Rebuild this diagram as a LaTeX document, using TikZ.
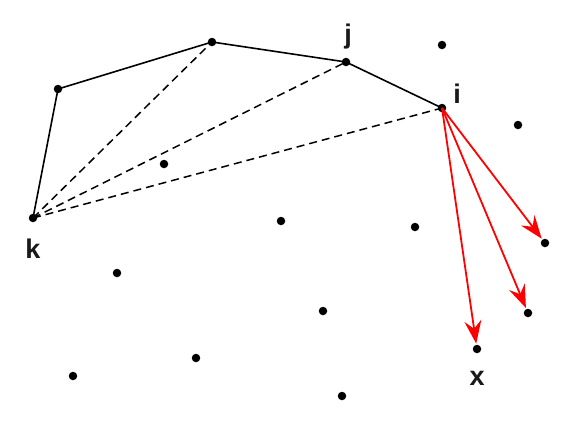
\documentclass[tikz,border=0pt]{standalone}
\usepackage{fontspec}
\setmainfont{Liberation Sans}
\usepackage{xcolor}
\usepackage{tikz}
\usetikzlibrary{arrows.meta,positioning}
\tikzset{
  >={Stealth[length=23pt,width=17pt,inset=8pt]},
  pt/.style={circle,fill=black,inner sep=0pt,minimum size=8.5pt},
  hull/.style={line width=1.6pt,black},
  chord/.style={line width=1.5pt,black,dash pattern=on 8pt off 5pt},
  probe/.style={->,line width=1.8pt,red,shorten >=1pt},
  tag/.style={font=\fontsize{27}{30}\selectfont\bfseries,text=black!90,inner sep=0pt}
}

\begin{document}
\begin{tikzpicture}[x=1pt,y=-1pt]
  \useasboundingbox (0,0) rectangle (580,440);

  % Hull points
  \node[pt] (k) at (33,218) {};
  \node[pt] (a) at (58,89) {};
  \node[pt] (b) at (212,42) {};
  \node[pt] (j) at (346,62) {};
  \node[pt] (i) at (442,108) {};

  % Candidate points
  \node[pt] (c1) at (545,243) {};
  \node[pt] (c2) at (528,313) {};
  \node[pt] (x) at (477,349) {};

  % Remaining points
  \foreach \px/\py [count=\n] in {442/45,518/125,164/164,281/221,415/227,117/273,323/311,196/358,73/376,342/396}
    \node[pt] (q\n) at (\px,\py) {};

  % Labels
  \node[tag] (lk) at (33,249) {k};
  \node[tag] (lj) at (348,37) {j};
  \node[tag] (li) at (457,94) {i};
  \node[tag] (lx) at (477,378) {x};

  % Chain
  \draw[hull] (k.center) -- (a.center) -- (b.center) -- (j.center) -- (i.center);

  % Chords from k
  \draw[chord] (k.center) -- (b.center);
  \draw[chord] (k.center) -- (j.center);
  \draw[chord] (k.center) -- (i.center);

  % Probes from i
  \draw[probe] (i.center) -- (c1);
  \draw[probe] (i.center) -- (c2);
  \draw[probe] (i.center) -- (x);
\end{tikzpicture}
\end{document}
